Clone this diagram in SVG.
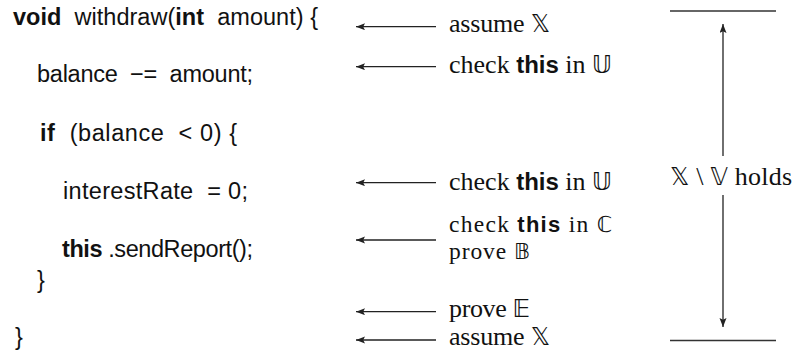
<svg xmlns="http://www.w3.org/2000/svg" width="793" height="352" viewBox="0 0 793 352">
<defs>
<marker id="ah" markerUnits="userSpaceOnUse" markerWidth="10" markerHeight="8" refX="9" refY="3.5" orient="auto">
<path d="M0,0 L9,3.5 L0,7 L1.8,3.5 z" fill="#222"/>
</marker>
<style>
.code{font-family:"Liberation Sans","DejaVu Sans",sans-serif;font-size:23.5px;fill:#111;white-space:pre}
.b{font-weight:bold}
.lab{font-family:"Liberation Serif","DejaVu Serif",serif;font-size:26px;fill:#111;white-space:pre}
.sm{font-size:23.5px}
.bb{font-family:"DejaVu Sans","Noto Sans",sans-serif;font-size:24px}
.kw{font-family:"Liberation Sans","DejaVu Sans",sans-serif;font-weight:bold;font-size:24px}
.sm .bb,.sm .kw{font-size:22px}
.arr{stroke:#222;stroke-width:1.3;fill:none;marker-end:url(#ah)}
.rule{stroke:#333;stroke-width:1.4}
</style>
</defs>
<rect width="793" height="352" fill="#fff"/>
<g id="code">
<g id="line1"><text class="code" x="13" y="25" textLength="305" lengthAdjust="spacing"><tspan class="b">void</tspan>  withdraw(<tspan class="b">int</tspan>  amount) {</text></g>
<g id="line2"><text class="code" x="37" y="82" textLength="216" lengthAdjust="spacing">balance  −=  amount;</text></g>
<g id="line3"><text class="code" x="40" y="141" textLength="197" lengthAdjust="spacing"><tspan class="b">if</tspan>  (balance  &lt; 0) {</text></g>
<g id="line4"><text class="code" x="63" y="199" textLength="185" lengthAdjust="spacing">interestRate  = 0;</text></g>
<g id="line5"><text class="code" x="62" y="257" textLength="191" lengthAdjust="spacing"><tspan class="b">this</tspan> .sendReport();</text></g>
<g id="line6"><text class="code" x="37" y="288">}</text></g>
<g id="line7"><text class="code" x="15" y="345">}</text></g>
</g>
<g id="labels">
<g id="lab1"><text class="lab" x="449" y="32" textLength="101" lengthAdjust="spacing">assume <tspan class="bb">𝕏</tspan></text></g>
<g id="lab2"><text class="lab" x="449" y="73" textLength="163" lengthAdjust="spacing">check <tspan class="kw">this</tspan> in <tspan class="bb">𝕌</tspan></text></g>
<g id="lab3"><text class="lab" x="449" y="190" textLength="163" lengthAdjust="spacing">check <tspan class="kw">this</tspan> in <tspan class="bb">𝕌</tspan></text></g>
<g id="lab4"><text class="lab sm" x="449" y="232" textLength="163" lengthAdjust="spacing">check <tspan class="kw">this</tspan> in <tspan class="bb">ℂ</tspan></text><text class="lab sm" x="449" y="259" textLength="81" lengthAdjust="spacing">prove <tspan class="bb">𝔹</tspan></text></g>
<g id="lab5"><text class="lab" x="449" y="317" textLength="81" lengthAdjust="spacing">prove <tspan class="bb">𝔼</tspan></text></g>
<g id="lab6"><text class="lab" x="449" y="345" textLength="101" lengthAdjust="spacing">assume <tspan class="bb">𝕏</tspan></text></g>
<g id="holds"><text class="lab" x="670" y="185" textLength="122" lengthAdjust="spacing"><tspan class="bb">𝕏</tspan> \ <tspan class="bb">𝕍</tspan> holds</text></g>
</g>
<g id="connectors">
<line class="arr" x1="436" y1="26.7" x2="356" y2="26.7"/>
<line class="arr" x1="436" y1="66.7" x2="356" y2="66.7"/>
<line class="arr" x1="436" y1="182.7" x2="356" y2="182.7"/>
<line class="arr" x1="436" y1="240" x2="356" y2="240"/>
<line class="arr" x1="436" y1="311.7" x2="356" y2="311.7"/>
<line class="arr" x1="436" y1="340" x2="356" y2="340"/>
<line class="rule" x1="670" y1="11" x2="776" y2="11"/>
<line class="rule" x1="670" y1="340.5" x2="776" y2="340.5"/>
<line class="arr" x1="723" y1="156" x2="723" y2="24"/>
<line class="arr" x1="723" y1="195" x2="723" y2="327"/>
</g>
</svg>
